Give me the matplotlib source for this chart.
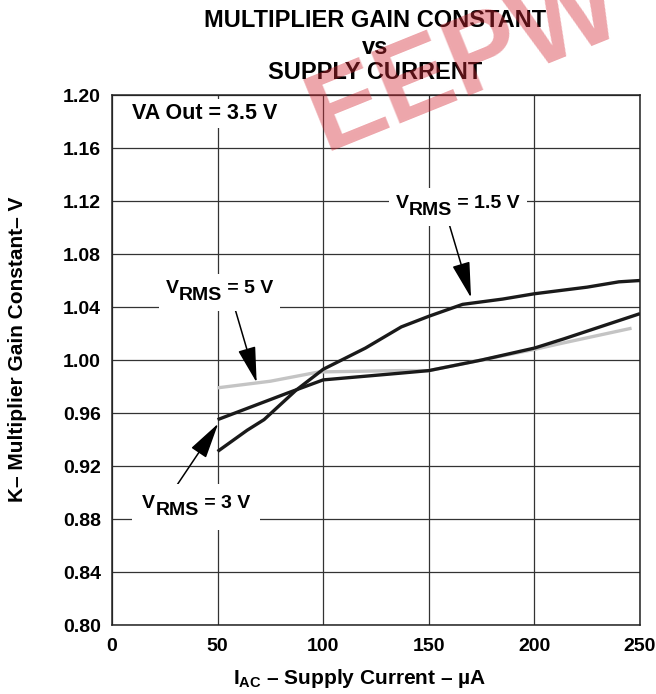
import numpy as np
import matplotlib
matplotlib.use("Agg")
import matplotlib.pyplot as plt
from matplotlib.offsetbox import TextArea, HPacker, VPacker, DrawingArea, AnnotationBbox

plt.rcParams['font.family'] = ['Liberation Sans', 'DejaVu Sans']
plt.rcParams['font.weight'] = 'bold'
plt.rcParams['mathtext.fontset'] = 'custom'
plt.rcParams['mathtext.rm'] = 'Liberation Sans:bold'
plt.rcParams['mathtext.bf'] = 'Liberation Sans:bold'
plt.rcParams['mathtext.it'] = 'Liberation Sans:bold'

# 曲线数据
x_15v = [50, 64, 72, 87, 100, 120, 137, 150, 166, 185, 200, 225, 240, 250]
y_15v = [0.931, 0.947, 0.955, 0.977, 0.993, 1.009, 1.025, 1.033, 1.042, 1.046, 1.050, 1.055, 1.059, 1.060]

x_3v = [50, 83, 100, 136, 150, 175, 200, 214, 250]
y_3v = [0.955, 0.975, 0.985, 0.990, 0.992, 1.000, 1.009, 1.016, 1.035]

x_5v = [50, 75, 98, 136, 150, 175, 200, 214, 246]
y_5v = [0.979, 0.984, 0.991, 0.992, 0.992, 1.000, 1.008, 1.013, 1.024]

x_ticks = [0, 50, 100, 150, 200, 250]
y_ticks = [0.80, 0.84, 0.88, 0.92, 0.96, 1.00, 1.04, 1.08, 1.12, 1.16, 1.20]


def rms_label(ax, xy, value, fs=14, pad=0.35):
    """V_RMS 标签：下标与正文同样大小，只是下移"""
    props = dict(fontsize=fs, fontweight='bold', color='black')
    t_v = TextArea('V', textprops=props)
    t_sub = VPacker(children=[DrawingArea(1, fs * 0.36), TextArea('RMS', textprops=props)],
                    pad=0, sep=0, align='left')
    t_rest = TextArea(' = ' + value + ' V', textprops=props)
    box = HPacker(children=[t_v, t_sub, t_rest], align='top', pad=0, sep=0)
    ab = AnnotationBbox(box, xy, xycoords='data', frameon=True, pad=pad, fontsize=fs,
                        bboxprops=dict(facecolor='white', edgecolor='none'), zorder=5)
    ax.add_artist(ab)


fig = plt.figure(figsize=(6.56, 6.94), dpi=100)
ax = fig.add_axes([0.1707, 0.0994, 0.8049, 0.7637])

ax.plot(x_5v, y_5v, color='#c4c4c4', lw=2.4, solid_capstyle='butt', zorder=3)
ax.plot(x_3v, y_3v, color='#1a1a1a', lw=2.4, solid_capstyle='butt', zorder=4)
ax.plot(x_15v, y_15v, color='#1a1a1a', lw=2.4, solid_capstyle='butt', zorder=4)

ax.set_xlim(0, 250)
ax.set_ylim(0.80, 1.20)
ax.set_xticks(x_ticks)
ax.set_yticks(y_ticks)
ax.set_xticklabels([str(v) for v in x_ticks], fontsize=14, fontweight='bold')
ax.set_yticklabels([f'{v:.2f}' for v in y_ticks], fontsize=14, fontweight='bold')
ax.tick_params(axis='x', length=0, pad=9)
ax.tick_params(axis='y', length=0, pad=8)
ax.grid(True, color='#333333', lw=0.9)
for s in ax.spines.values():
    s.set_linewidth(1.1)
    s.set_color('#222222')

ax.set_xlabel(r'I$_{\mathrm{AC}}$ – Supply Current – µA', fontsize=15, fontweight='bold')
ax.xaxis.set_label_coords(0.47, -0.079)
ax.set_ylabel('K– Multiplier Gain Constant– V', fontsize=15, fontweight='bold')
ax.yaxis.set_label_coords(-0.160, 0.521)

fig.text(0.5724, 0.971, 'MULTIPLIER GAIN CONSTANT', ha='center', va='center', fontsize=17, fontweight='bold')
fig.text(0.5724, 0.932, 'vs', ha='center', va='center', fontsize=17, fontweight='bold')
fig.text(0.5724, 0.896, 'SUPPLY CURRENT', ha='center', va='center', fontsize=17, fontweight='bold')

ax.text(9.5, 1.186, 'VA Out = 3.5 V', fontsize=15.5, fontweight='bold', va='center', ha='left',
        bbox=dict(facecolor='white', edgecolor='none', pad=3), zorder=5)

# 标签与箭头
rms_label(ax, (163.8, 1.1154), '1.5')
rms_label(ax, (51.1, 1.051), '5')
rms_label(ax, (39.8, 0.889), '3', pad=0.55)

arrow = dict(arrowstyle='-|>,head_length=1.6,head_width=0.4', color='black', lw=1.1,
             shrinkA=0, shrinkB=0, mutation_scale=14)
ax.annotate('', xy=(170, 1.047), xytext=(159, 1.106), arrowprops=arrow, zorder=4)
ax.annotate('', xy=(68.5, 0.983), xytext=(58, 1.040), arrowprops=arrow, zorder=4)
ax.annotate('', xy=(50.3, 0.952), xytext=(28, 0.899), arrowprops=arrow, zorder=4)

# 水印
fig.text(0.71, 0.91, 'EEPW', fontsize=80, fontweight='bold', color='#d42a36', alpha=0.42,
         rotation=22, ha='center', va='center', zorder=10)

plt.savefig('out.png', dpi=100)
